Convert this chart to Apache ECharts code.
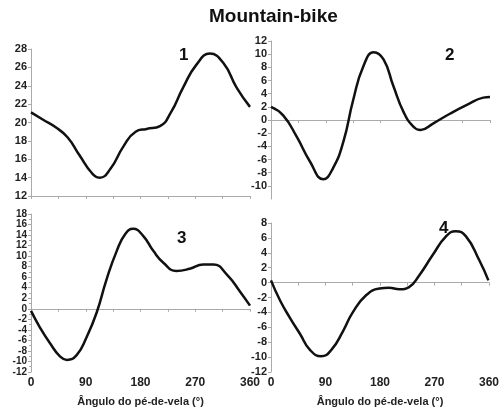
<!DOCTYPE html>
<html>
<head>
<meta charset="utf-8">
<script src="https://cdn.jsdelivr.net/npm/echarts@6/dist/echarts.min.js"></script>
<style>
  html, body { margin: 0; padding: 0; background: #fff; }
  #chart { width: 502px; height: 415px; }
</style>
</head>
<body>
<div id="chart"></div>
<script>
// curva de cada painel: [ângulo do pé-de-vela, valor]
const curve1 = [[0, 21.1], [20, 20.3], [40, 19.5], [60, 18.4], [80, 16.4], [100, 14.5], [113, 14.0],
  [130, 14.9], [152, 17.4], [172, 19.0], [190, 19.3], [212, 19.6], [230, 21.1], [250, 23.8],
  [272, 26.3], [294, 27.5], [316, 26.5], [338, 23.8], [360, 21.7]];
const curve2 = [[0, 2.0], [20, 0.7], [42, -2.5], [64, -6.3], [86, -9.0], [102, -7.3], [119, -3.3],
  [135, 3.0], [152, 8.2], [169, 10.3], [185, 9.2], [201, 5.2], [218, 1.2], [234, -1.0],
  [246, -1.5], [267, -0.5], [294, 0.95], [322, 2.3], [349, 3.4], [360, 3.5]];
const curve3 = [[0, -0.4], [15, -3.6], [31, -6.5], [48, -9.1], [59, -9.7], [75, -8.8], [91, -5.5],
  [108, -0.7], [124, 5.5], [141, 11.0], [155, 14.2], [168, 15.2], [184, 13.9], [201, 11.0],
  [218, 8.7], [239, 7.2], [261, 7.6], [283, 8.4], [300, 8.4], [322, 6.5], [344, 3.2], [360, 0.6]];
const curve4 = [[0, 0.3], [15, -2.4], [31, -4.7], [48, -6.9], [64, -9.0], [83, -9.9], [100, -9.0],
  [119, -6.5], [135, -4.0], [157, -1.7], [179, -0.8], [195, -0.7], [212, -0.9], [228, -0.6],
  [245, 1.0], [267, 3.7], [289, 6.2], [305, 6.9], [322, 6.2], [344, 3.0], [359, 0.3]];

const xTicks = [0, 90, 180, 270, 360];
const panelNames = ["1", "2", "3", "4"];
const yRanges = [[12, 28], [-12, 12], [-12, 18], [-12, 8]];
const xName = "Ângulo do pé-de-vela (°)";

const chart = echarts.init(document.getElementById("chart"));

const grids = [
  { left: 31, right: 252, top: 49, bottom: 219 },
  { left: 271, right: 12, top: 41, bottom: 216 },
  { left: 31, right: 252, top: 214, bottom: 43 },
  { left: 271, right: 12, top: 223, bottom: 43 },
];

const lineCol = "#aaa";
const labelFont = { fontFamily: "Liberation Sans", fontWeight: "bold", color: "#222" };

const xAxes = grids.map((g, i) => {
  const bottomRow = i >= 2;
  return {
    type: "value",
    gridIndex: i,
    min: 0,
    max: 360,
    interval: 45,
    name: bottomRow ? xName : "",
    nameLocation: "middle",
    nameGap: 24,
    nameTextStyle: Object.assign({ fontSize: 11 }, labelFont),
    axisLine: { lineStyle: { color: lineCol } },
    axisTick: { length: 3, lineStyle: { color: lineCol } },
    splitLine: { show: false },
    axisLabel: Object.assign({
      show: bottomRow,
      fontSize: 12,
      margin: 5,
      formatter: (v) => (xTicks.indexOf(v) >= 0 ? String(v) : ""),
    }, labelFont),
  };
});

const yAxes = grids.map((g, i) => ({
  type: "value",
  gridIndex: i,
  min: yRanges[i][0],
  max: yRanges[i][1],
  interval: 2,
  axisLine: { show: true, lineStyle: { color: lineCol } },
  axisTick: { show: true, length: 3, lineStyle: { color: lineCol } },
  minorTick: { show: i === 2, splitNumber: 2, length: 2, lineStyle: { color: lineCol } },
  splitLine: { show: false },
  axisLabel: Object.assign({
    fontSize: i === 2 ? 10 : 11,
    lineHeight: i === 2 ? 9 : 12,
    margin: 4,
    hideOverlap: false,
    showMinLabel: i !== 1,
    showMaxLabel: true,
  }, labelFont),
}));

const curves = [curve1, curve2, curve3, curve4];
const numStyle = { fontSize: 17, fontWeight: "bold", fontFamily: "Liberation Sans", color: "#111" };

chart.setOption({
  animation: false,
  title: [
    { text: "Mountain-bike", left: 204, top: 2,
      textStyle: { fontSize: 19, fontWeight: "bold", fontFamily: "Liberation Sans", color: "#111" } },
    { text: panelNames[0], left: 174, top: 42, textStyle: numStyle },
    { text: panelNames[1], left: 440, top: 42, textStyle: numStyle },
    { text: panelNames[2], left: 172, top: 225, textStyle: numStyle },
    { text: panelNames[3], left: 434, top: 215, textStyle: numStyle },
  ],
  grid: grids,
  xAxis: xAxes,
  yAxis: yAxes,
  series: curves.map((c, i) => ({
    type: "line",
    xAxisIndex: i,
    yAxisIndex: i,
    data: c,
    smooth: 0.5,
    showSymbol: false,
    lineStyle: { color: "#111", width: 2.5 },
  })),
});
</script>
</body>
</html>
